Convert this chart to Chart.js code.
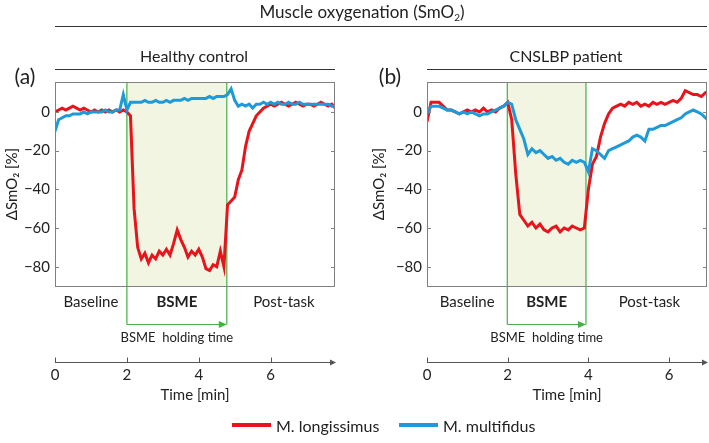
<!DOCTYPE html>
<html>
<head>
<meta charset="utf-8">
<script src="https://cdn.jsdelivr.net/npm/chart.js@4.4.1/dist/chart.umd.min.js"></script>
<style>
  body { margin: 0; background: #fff; font-family: Lato, sans-serif; color: #222; }
  #wrap { position: relative; width: 709px; height: 443px; overflow: hidden; }
  canvas { position: absolute; left: 0; top: 0; }
  .lbl { position: absolute; transform: translate(-50%, -50%); white-space: nowrap; }
  .leg { position: absolute; transform: translateY(-50%); white-space: nowrap; font-size: 16px; }
  .rule { position: absolute; height: 0; border-top: 1px solid #333; }
  .swatch { position: absolute; height: 4px; width: 39px; }
  sub { font-size: 10px; vertical-align: -3px; line-height: 0; }
</style>
</head>
<body>
<div id="wrap">
  <canvas id="chartA" width="709" height="443"></canvas>
  <canvas id="chartB" width="709" height="443"></canvas>

  <div class="lbl" style="left:362px;top:11px;font-size:17px">Muscle oxygenation (SmO<sub>2</sub>)</div>
  <div class="rule" style="left:55px;top:26px;width:652px"></div>

  <div class="lbl" style="left:194px;top:55px;font-size:16px">Healthy control</div>
  <div class="rule" style="left:55px;top:69px;width:280px"></div>
  <div class="lbl" style="left:566px;top:55px;font-size:16px">CNSLBP patient</div>
  <div class="rule" style="left:427px;top:69px;width:280px"></div>

  <div class="lbl" style="left:25px;top:75px;font-size:21px">(a)</div>
  <div class="lbl" style="left:390px;top:75px;font-size:21px">(b)</div>

  <div id="legend"></div>
</div>

<script>
// time in minutes, SmO2 change in %
const timeA = [0,0.1,0.2,0.3,0.4,0.5,0.6,0.7,0.8,0.9,
  1.0,1.1,1.2,1.3,1.4,1.5,1.6,1.7,1.8,1.9,
  2.0,2.1,2.2,2.3,2.4,2.5,2.6,2.7,2.8,2.9,
  3.0,3.1,3.2,3.3,3.4,3.5,3.6,3.7,3.8,3.9,
  4.0,4.1,4.2,4.3,4.4,4.5,4.6,4.7,4.8,4.9,
  5.0,5.1,5.2,5.3,5.4,5.5,5.6,5.7,5.8,5.9,
  6.0,6.1,6.2,6.3,6.4,6.5,6.6,6.7,6.8,6.9,
  7.0,7.1,7.2,7.3,7.4,7.5,7.6,7.7,7.8];
const longissimusA = [0,1,2,1,2,3,2,1,2,1,
  0,1,0,1,0,1,0,1,0,1,
  0,-2,-50,-70,-76,-73,-78,-74,-76,-72,
  -74,-71,-74,-68,-61,-66,-70,-75,-72,-74,
  -71,-75,-81,-82,-79,-80,-72,-80,-48,-46,
  -44,-35,-30,-18,-10,-6,-2,0,2,3,
  4,3,4,5,4,3,4,5,4,3,
  4,4,3,4,5,4,3,4,2];
const multifidusA = [-10,-4,-3,-2,-2,-1,-1,-1,0,-1,
  0,0,0,0,1,0,0,1,1,9,
  1,5,5,5,5,6,5,5,6,5,
  5,6,5,6,6,6,7,6,7,7,
  7,7,7,8,7,8,8,8,9,12,
  6,3,4,3,4,2,4,4,5,4,
  5,4,5,4,4,5,4,4,5,4,
  4,4,4,4,4,4,4,3,3];

const timeB = [0,0.1,0.2,0.3,0.4,0.5,0.6,0.7,0.8,0.9,
  1.0,1.1,1.2,1.3,1.4,1.5,1.6,1.7,1.8,1.9,
  2.0,2.1,2.2,2.3,2.4,2.5,2.6,2.7,2.8,2.9,
  3.0,3.1,3.2,3.3,3.4,3.5,3.6,3.7,3.8,3.9,
  4.0,4.1,4.2,4.3,4.4,4.5,4.6,4.7,4.8,4.9,
  5.0,5.1,5.2,5.3,5.4,5.5,5.6,5.7,5.8,5.9,
  6.0,6.1,6.2,6.3,6.4,6.5,6.6,6.7,6.8,6.9,
  7.0];
const longissimusB = [-5,5,5,5,3,1,1,0,-1,0,
  1,0,1,0,2,0,1,0,2,3,
  5,-4,-32,-53,-56,-59,-57,-60,-58,-61,
  -62,-60,-59,-62,-60,-61,-59,-60,-61,-60,
  -40,-27,-23,-13,-6,-1,2,3,4,3,
  5,4,5,3,4,3,5,4,5,4,
  5,6,5,7,11,10,9,9,8,10,
  11];
const multifidusB = [-1,3,3,3,2,1,1,0,-1,0,
  -1,0,-1,-2,-1,-1,0,1,2,3,
  5,4,-4,-9,-14,-22,-19,-21,-20,-22,
  -24,-23,-25,-24,-26,-27,-25,-26,-25,-26,
  -31,-19,-20,-22,-24,-20,-19,-18,-17,-16,
  -15,-13,-12,-13,-15,-9,-9,-8,-7,-7,
  -6,-5,-4,-3,-1,0,1,0,-1,-3,
  -5];

const yTicks = [-80, -60, -40, -20, 0];
const timeTicks = [0, 2, 4, 6];
const phaseNames = ['Baseline', 'BSME', 'Post-task'];
const bsmeA = [2.0, 4.78];   // holding phase, healthy control
const bsmeB = [1.99, 3.94];  // holding phase, patient
const seriesNames = ['M. longissimus', 'M. multifidus'];
const seriesColors = ['#e8141c', '#1e9ad8'];

const FONT = 'Lato, sans-serif';

const panelPlugin = {
    id: 'panel',
    beforeDatasetsDraw(chart, args, opts) {
        const { ctx, chartArea: a } = chart;
        const x = chart.scales.x;
        const x1 = x.getPixelForValue(opts.bsme[0]);
        const x2 = x.getPixelForValue(opts.bsme[1]);
        ctx.save();
        ctx.fillStyle = '#f1f5e2';
        ctx.fillRect(x1, a.top, x2 - x1, a.bottom - a.top);
        ctx.strokeStyle = '#45b045';
        ctx.lineWidth = 1.2;
        ctx.beginPath();
        ctx.moveTo(x1, a.top); ctx.lineTo(x1, opts.arrowY);
        ctx.moveTo(x2, a.top); ctx.lineTo(x2, opts.arrowY);
        ctx.stroke();
        ctx.restore();
    },
    afterDatasetsDraw(chart) {
        const { ctx, chartArea: a } = chart;
        const y = chart.scales.y;
        ctx.save();
        ctx.strokeStyle = '#808080';
        ctx.lineWidth = 1;
        ctx.strokeRect(a.left + 0.5, a.top + 0.5, a.right - a.left - 1, a.bottom - a.top);
        ctx.beginPath();
        yTicks.forEach(v => {
            const py = Math.round(y.getPixelForValue(v)) + 0.5;
            ctx.moveTo(a.left, py); ctx.lineTo(a.left + 4, py);
            ctx.moveTo(a.right - 4, py); ctx.lineTo(a.right, py);
        });
        ctx.stroke();
        ctx.restore();
    },
    afterDraw(chart, args, opts) {
        const { ctx, chartArea: a } = chart;
        const x = chart.scales.x;
        const x0 = x.getPixelForValue(0);
        const x1 = x.getPixelForValue(opts.bsme[0]);
        const x2 = x.getPixelForValue(opts.bsme[1]);
        ctx.save();

        // phase labels
        ctx.fillStyle = '#222';
        ctx.textAlign = 'center';
        ctx.textBaseline = 'middle';
        const mids = [(x0 + x1) / 2, (x1 + x2) / 2, (x2 + a.right) / 2 + 3];
        phaseNames.forEach((name, i) => {
            ctx.font = (i === 1 ? 'bold ' : '') + '15px ' + FONT;
            ctx.fillText(name, mids[i], 302);
        });

        // holding time arrow
        ctx.strokeStyle = '#45b045';
        ctx.fillStyle = '#45b045';
        ctx.lineWidth = 1.2;
        ctx.beginPath();
        ctx.moveTo(x1, opts.arrowY); ctx.lineTo(x2 - 6, opts.arrowY);
        ctx.stroke();
        ctx.beginPath();
        ctx.moveTo(x2, opts.arrowY);
        ctx.lineTo(x2 - 8, opts.arrowY - 3.5);
        ctx.lineTo(x2 - 8, opts.arrowY + 3.5);
        ctx.closePath();
        ctx.fill();
        ctx.fillStyle = '#222';
        ctx.font = '13px ' + FONT;
        ctx.fillText('BSME  holding time', (x1 + x2) / 2, 338);

        // time axis
        const ty = 362.5;
        ctx.strokeStyle = '#555';
        ctx.fillStyle = '#555';
        ctx.lineWidth = 1;
        ctx.beginPath();
        ctx.moveTo(x0, ty); ctx.lineTo(a.right - 3, ty);
        timeTicks.forEach(t => {
            const px = Math.round(x.getPixelForValue(t)) + 0.5;
            ctx.moveTo(px, ty); ctx.lineTo(px, ty - 5);
        });
        ctx.stroke();
        ctx.beginPath();
        ctx.moveTo(a.right + 1, ty);
        ctx.lineTo(a.right - 5, ty - 3);
        ctx.lineTo(a.right - 5, ty + 3);
        ctx.closePath();
        ctx.fill();
        ctx.fillStyle = '#222';
        ctx.font = '15px ' + FONT;
        timeTicks.forEach(t => {
            ctx.fillText(String(t), x.getPixelForValue(t), 375);
        });
        ctx.fillText('Time [min]', (a.left + a.right) / 2, 395);
        ctx.restore();
    }
};

function makeChart(id, times, red, blue, xMax, bsme, padLeft, padRight, axisWidth) {
    const ctx = document.getElementById(id);
    return new Chart(ctx, {
        type: 'line',
        data: {
            datasets: [{
                label: seriesNames[0],
                data: times.map((t, i) => ({ x: t, y: red[i] })),
                borderColor: seriesColors[0],
                borderWidth: 3,
                pointRadius: 0,
                order: 1
            }, {
                label: seriesNames[1],
                data: times.map((t, i) => ({ x: t, y: blue[i] })),
                borderColor: seriesColors[1],
                borderWidth: 3,
                pointRadius: 0,
                order: 0
            }]
        },
        options: {
            responsive: false,
            animation: false,
            events: [],
            layout: {
                padding: { left: padLeft, right: padRight, top: 82, bottom: 157 }
            },
            scales: {
                x: {
                    type: 'linear',
                    min: 0,
                    max: xMax,
                    display: false
                },
                y: {
                    min: -90,
                    max: 15.5,
                    afterBuildTicks: s => { s.ticks = yTicks.map(v => ({ value: v })); },
                    afterFit: s => { s.width = axisWidth; },
                    grid: { display: false, drawTicks: false },
                    border: { display: false },
                    ticks: {
                        padding: 5,
                        color: '#222',
                        font: { family: FONT, size: 15 },
                        callback: v => v < 0 ? '\u2212' + Math.abs(v) : String(v)
                    },
                    title: {
                        display: true,
                        text: '\u0394SmO\u2082 [%]',
                        color: '#222',
                        font: { family: FONT, size: 15 },
                        padding: 0
                    }
                }
            },
            plugins: {
                legend: { display: false },
                tooltip: { enabled: false },
                panel: { bsme: bsme, arrowY: 324.5 }
            }
        },
        plugins: [panelPlugin]
    });
}

makeChart('chartA', timeA, longissimusA, multifidusA, 7.79, bsmeA, 3, 374, 52);
makeChart('chartB', timeB, longissimusB, multifidusB, 6.94, bsmeB, 370, 2, 57);

// legend
const legendLeft = [232, 399];
let html = '';
seriesNames.forEach((name, i) => {
    html += '<div class="swatch" style="left:' + legendLeft[i] + 'px;top:423px;background:' + seriesColors[i] + '"></div>';
    html += '<div class="leg" style="left:' + (legendLeft[i] + 44) + 'px;top:425px">' + name + '</div>';
});
document.getElementById('legend').innerHTML = html;
</script>
</body>
</html>
